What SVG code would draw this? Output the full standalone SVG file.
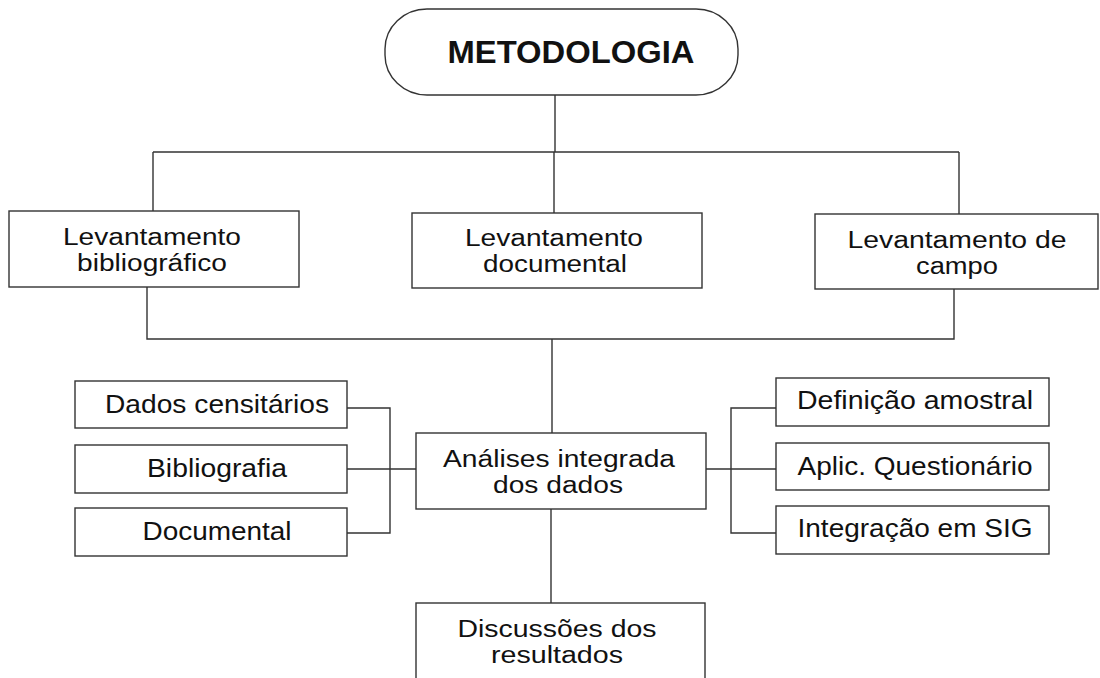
<svg xmlns="http://www.w3.org/2000/svg" width="1100" height="678" viewBox="0 0 1100 678">
<style>
.box{fill:#fff;stroke:#333;stroke-width:1.4}
.ln{fill:none;stroke:#333;stroke-width:1.4}
text{font-family:"Liberation Sans",Arial,sans-serif;font-size:25px;fill:#111;text-anchor:middle}
.two{font-size:23px}
.title{font-weight:bold;font-size:31px}
</style>
<rect width="1100" height="678" fill="#fff"/>
<g id="connectors">
<path class="ln" d="M555 95 V152 M153 152 H959 M153 152 V211 M554 152 V213 M959 152 V214"/>
<path class="ln" d="M147 287 V339 H954 V289 M552 339 V433"/>
<path class="ln" d="M347 408 H390 V533 H347 M347 469 H416"/>
<path class="ln" d="M706 469 H776 M776 408 H731 V533 H776"/>
<path class="ln" d="M551 509 V603"/>
</g>
<g id="metodologia">
<rect class="box" x="385" y="9" width="353" height="86" rx="42" ry="40"/>
<text class="title" x="571" y="63" textLength="247" lengthAdjust="spacingAndGlyphs">METODOLOGIA</text>
</g>
<g id="lev-bibliografico">
<rect class="box" x="9" y="211" width="290" height="76"/>
<text class="two" x="152" y="244.5" textLength="178" lengthAdjust="spacingAndGlyphs">Levantamento</text>
<text class="two" x="152" y="270.5" textLength="150" lengthAdjust="spacingAndGlyphs">bibliográfico</text>
</g>
<g id="lev-documental">
<rect class="box" x="412" y="213" width="290" height="75"/>
<text class="two" x="554" y="246" textLength="178" lengthAdjust="spacingAndGlyphs">Levantamento</text>
<text class="two" x="555" y="272" textLength="144" lengthAdjust="spacingAndGlyphs">documental</text>
</g>
<g id="lev-campo">
<rect class="box" x="815" y="214" width="283" height="75"/>
<text class="two" x="957" y="247.5" textLength="219" lengthAdjust="spacingAndGlyphs">Levantamento de</text>
<text class="two" x="957" y="273.5" textLength="82" lengthAdjust="spacingAndGlyphs">campo</text>
</g>
<g id="dados-censitarios">
<rect class="box" x="75" y="381" width="272" height="47"/>
<text x="217" y="413" textLength="224" lengthAdjust="spacingAndGlyphs">Dados censitários</text>
</g>
<g id="bibliografia">
<rect class="box" x="75" y="445" width="272" height="48"/>
<text x="217" y="477" textLength="140" lengthAdjust="spacingAndGlyphs">Bibliografia</text>
</g>
<g id="documental">
<rect class="box" x="75" y="508" width="272" height="48"/>
<text x="217" y="540" textLength="149" lengthAdjust="spacingAndGlyphs">Documental</text>
</g>
<g id="analises">
<rect class="box" x="416" y="433" width="290" height="76"/>
<text class="two" x="559" y="467" textLength="232" lengthAdjust="spacingAndGlyphs">Análises integrada</text>
<text class="two" x="558" y="493" textLength="130" lengthAdjust="spacingAndGlyphs">dos dados</text>
</g>
<g id="definicao">
<rect class="box" x="776" y="378" width="273" height="48"/>
<text x="915" y="409" textLength="236" lengthAdjust="spacingAndGlyphs">Definição amostral</text>
</g>
<g id="aplic">
<rect class="box" x="776" y="443" width="273" height="47"/>
<text x="915" y="475" textLength="235" lengthAdjust="spacingAndGlyphs">Aplic. Questionário</text>
</g>
<g id="integracao">
<rect class="box" x="776" y="506" width="273" height="48"/>
<text x="915" y="537" textLength="235" lengthAdjust="spacingAndGlyphs">Integração em SIG</text>
</g>
<g id="discussoes">
<rect class="box" x="416" y="603" width="289" height="90"/>
<text class="two" x="557" y="637" textLength="199" lengthAdjust="spacingAndGlyphs">Discussões dos</text>
<text class="two" x="557" y="663" textLength="132" lengthAdjust="spacingAndGlyphs">resultados</text>
</g>
</svg>
